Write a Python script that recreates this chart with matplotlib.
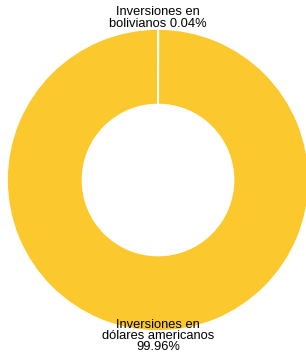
import matplotlib
matplotlib.use("Agg")
import matplotlib.pyplot as plt

labels = ["Inversiones en\nbolivianos 0.04%", "Inversiones en\ndólares americanos\n99.96%"]
values = [0.04, 99.96]
colors = ["#FBC92D", "#FBC92D"]

plt.rcParams['font.family'] = ['Liberation Sans', 'DejaVu Sans']

fig = plt.figure(figsize=(3.06, 3.6), dpi=100)
ax = fig.add_axes([7 / 306, 29 / 360, 302 / 306, 302 / 360])
ax.pie(values, colors=colors, startangle=90, counterclock=False, radius=1,
       wedgeprops=dict(width=0.5, edgecolor="white", linewidth=1.2))
ax.set_xlim(-1, 1)
ax.set_ylim(-1, 1)
ax.set_aspect("equal")
ax.axis("off")

fig.text(158 / 306, 1 - 18 / 360, labels[0], ha="center", va="center", fontsize=9.3, linespacing=0.9)
fig.text(158 / 306, 1 - 336 / 360, labels[1], ha="center", va="center", fontsize=9.3, linespacing=0.9)

fig.savefig("out.png", dpi=100)
